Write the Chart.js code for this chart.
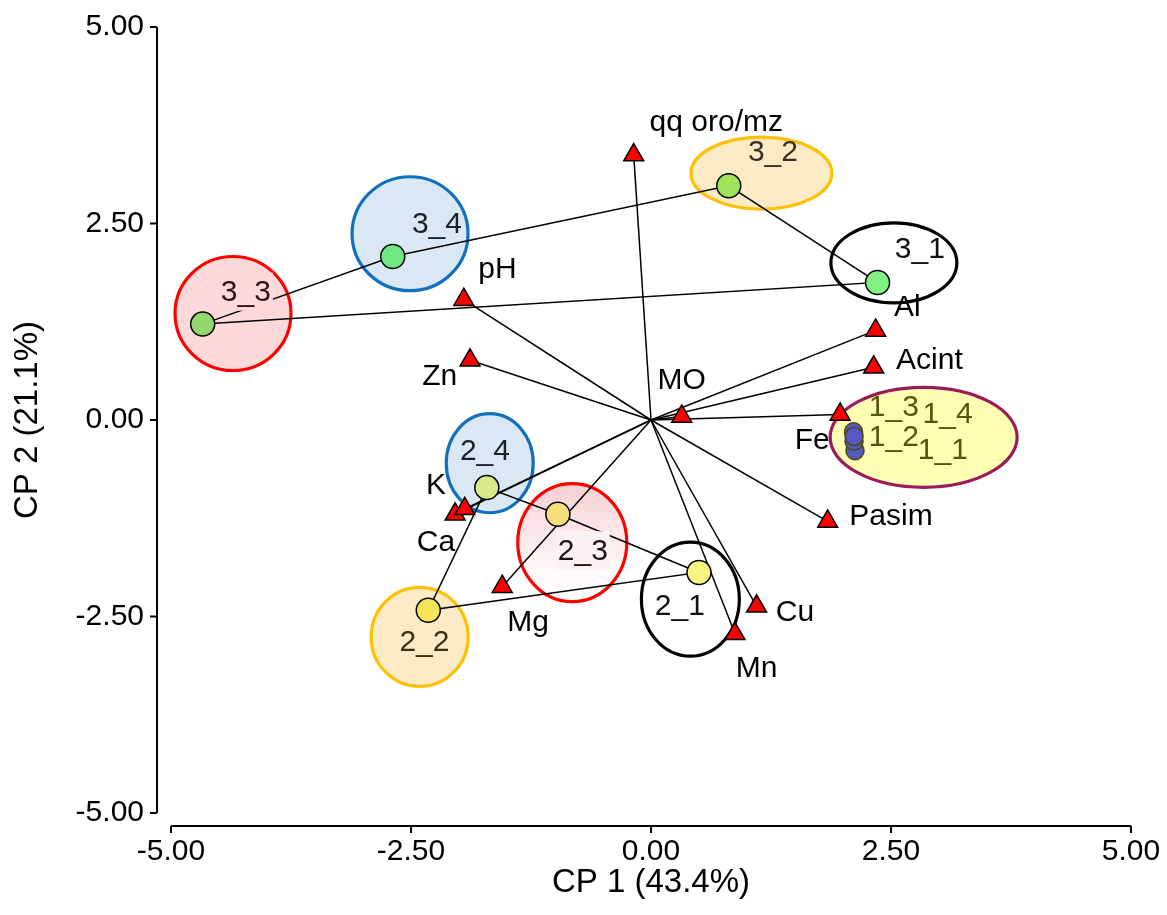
<!DOCTYPE html>
<html>
<head>
<meta charset="utf-8">
<script src="https://cdn.jsdelivr.net/npm/chart.js@4.4.1/dist/chart.umd.min.js"></script>
<style>
  html, body { margin: 0; padding: 0; background: #fff; }
</style>
</head>
<body>
<canvas id="grafico" width="1167" height="915"></canvas>
<script>
// variaveis (vetores a partir da origem)
const varNomes = ["qq oro/mz", "pH", "Zn", "MO", "Al", "Acint", "Fe", "Pasim", "Cu", "Mn", "Mg", "Ca", "K"]
const varX = [-0.18, -1.95, -1.885, 0.32, 2.34, 2.32, 1.97, 1.84, 1.10, 0.875, -1.55, -2.04, -1.94]
const varY = [3.37, 1.53, 0.76, 0.045, 1.14, 0.67, 0.07, -1.29, -2.37, -2.72, -2.12, -1.20, -1.13]
const varRotX = [0.68, -1.60, -2.20, 0.32, 2.67, 2.90, 1.68, 2.50, 1.50, 1.10, -1.28, -2.24, -2.24]
const varRotY = [3.78, 1.91, 0.55, 0.50, 1.43, 0.75, -0.26, -1.23, -2.45, -3.17, -2.58, -1.56, -0.84]

// amostras
const amostras = ["3_1", "3_2", "3_3", "3_4", "2_1", "2_2", "2_3", "2_4", "1_1", "1_2", "1_3", "1_4"]
const amX = [2.36, 0.81, -4.67, -2.69, 0.50, -2.32, -0.97, -1.71, 2.125, 2.115, 2.11, 2.115]
const amY = [1.75, 2.98, 1.22, 2.08, -1.94, -2.42, -1.20, -0.86, -0.39, -0.27, -0.15, -0.21]
const amRotX = [2.80, 1.27, -4.22, -2.23, 0.30, -2.36, -0.71, -1.73, 3.04, 2.53, 2.53, 3.09]
const amRotY = [2.16, 3.40, 1.62, 2.49, -2.37, -2.83, -1.67, -0.41, -0.39, -0.22, 0.16, 0.07]

// ligacoes entre amostras de cada grupo
const grupo3 = ["3_3", "3_4", "3_2", "3_1", "3_3"]
const grupo2 = ["2_4", "2_3", "2_1", "2_2", "2_4"]
const grupo1 = ["1_3", "1_4", "1_2", "1_1", "1_3"]

// elipses dos grupos (centro e raios em unidades do grafico)
const elipseX = [2.53, 1.15, -4.354, -2.51, 0.41, -2.41, -0.82, -1.68, 2.84]
const elipseY = [2.0, 3.14, 1.355, 2.37, -2.28, -2.76, -1.56, -0.55, -0.22]
const elipseRX = [0.656, 0.734, 0.604, 0.604, 0.51, 0.505, 0.568, 0.453, 0.974]
const elipseRY = [0.509, 0.458, 0.725, 0.725, 0.725, 0.63, 0.75, 0.63, 0.636]

const ticksEixo = [-5, -2.5, 0, 2.5, 5]

// estilos
const elipseBorda = ["#000000", "#ffc000", "#ff0000", "#1070c0", "#000000", "#ffc000", "#ff0000", "#1070c0", "#9a1a5c"]
const elipseFundo = [null, "#fdebc6", "#fdd9d9", "#d9e8f4", null, "#fdebc6", "gradiente", "#d9e8f4", "#ffffb4"]
const amCor = ["#82f282", "#a0e45e", "#92d66e", "#6ee882", "#f8f480", "#f4e458", "#f6e07c", "#d8ea8c",
  "#5858c4", "#5858c4", "#5858c4", "#5858c4"]
const amBorda = ["#000", "#000", "#000", "#000", "#000", "#000", "#000", "#000", "#4a4a10", "#4a4a10", "#4a4a10", "#4a4a10"]
const amTexto = ["#111", "#3a3020", "#2e1414", "#16222e", "#111", "#3b3010", "#1e1212", "#16222e",
  "#55550c", "#55550c", "#55550c", "#55550c"]
const amFundoTexto = [null, null, "#fdd9d9", null, null, null, "#fdf2f3", null, null, null, null, null]

const fonte = "'Liberation Sans', Arial, sans-serif"

function pontoDe(nome) {
  const i = amostras.indexOf(nome)
  return { x: amX[i], y: amY[i] }
}

const elipses = {
  id: "elipses",
  beforeDatasetsDraw(chart) {
    const ctx = chart.ctx, sx = chart.scales.x, sy = chart.scales.y
    ctx.save()
    elipseX.forEach((cx, i) => {
      const px = sx.getPixelForValue(cx), py = sy.getPixelForValue(elipseY[i])
      const rx = Math.abs(sx.getPixelForValue(cx + elipseRX[i]) - px)
      const ry = Math.abs(sy.getPixelForValue(elipseY[i] + elipseRY[i]) - py)
      ctx.beginPath()
      ctx.ellipse(px, py, rx, ry, 0, 0, Math.PI * 2)
      if (elipseFundo[i] === "gradiente") {
        const g = ctx.createLinearGradient(0, py - ry, 0, py + ry)
        g.addColorStop(0, "#f8cfd3")
        g.addColorStop(0.75, "#fffafa")
        g.addColorStop(1, "#ffffff")
        ctx.fillStyle = g
        ctx.fill()
      } else if (elipseFundo[i]) {
        ctx.fillStyle = elipseFundo[i]
        ctx.fill()
      }
      ctx.lineWidth = 3.2
      ctx.strokeStyle = elipseBorda[i]
      ctx.stroke()
    })
    ctx.restore()
  }
}

const rotulos = {
  id: "rotulos",
  afterDatasetsDraw(chart) {
    const ctx = chart.ctx, sx = chart.scales.x, sy = chart.scales.y
    ctx.save()
    ctx.font = "30px " + fonte
    ctx.textAlign = "center"
    ctx.textBaseline = "middle"
    amostras.forEach((nome, i) => {
      const px = sx.getPixelForValue(amRotX[i]), py = sy.getPixelForValue(amRotY[i])
      if (amFundoTexto[i]) {
        const w = ctx.measureText(nome).width
        ctx.fillStyle = amFundoTexto[i]
        ctx.fillRect(px - w / 2 - 2, py - 20, w + 4, 38)
      }
      ctx.fillStyle = amTexto[i]
      ctx.fillText(nome, px, py)
    })
    ctx.fillStyle = "#000"
    varNomes.forEach((nome, i) => {
      ctx.fillText(nome, sx.getPixelForValue(varRotX[i]), sy.getPixelForValue(varRotY[i]))
    })
    ctx.restore()
  }
}

// eixos destacados da area do grafico
const eixos = {
  id: "eixos",
  afterDraw(chart) {
    const ctx = chart.ctx, sx = chart.scales.x, sy = chart.scales.y
    const xe = chart.chartArea.left - 14
    const ye = chart.chartArea.bottom + 13
    ctx.save()
    ctx.strokeStyle = "#000"
    ctx.lineWidth = 2
    ctx.beginPath()
    ctx.moveTo(xe, sy.getPixelForValue(sy.max))
    ctx.lineTo(xe, sy.getPixelForValue(sy.min))
    sy.ticks.forEach((t) => {
      const p = sy.getPixelForValue(t.value)
      ctx.moveTo(xe - 7, p)
      ctx.lineTo(xe, p)
    })
    ctx.moveTo(sx.getPixelForValue(sx.min), ye)
    ctx.lineTo(sx.getPixelForValue(sx.max), ye)
    sx.ticks.forEach((t) => {
      const p = sx.getPixelForValue(t.value)
      ctx.moveTo(p, ye)
      ctx.lineTo(p, ye + 7)
    })
    ctx.stroke()
    ctx.restore()
  }
}

const linhasVar = varX.map((x, i) => ({
  type: "scatter",
  data: [{ x: 0, y: 0 }, { x: x, y: varY[i] }],
  showLine: true,
  borderColor: "#000",
  borderWidth: 1.5,
  pointRadius: 0,
  order: 3
}))

const linhasGrupo = [grupo3, grupo2, grupo1].map((g, k) => ({
  type: "scatter",
  data: g.map(pontoDe),
  showLine: true,
  borderColor: k === 2 ? "#4a4a10" : "#000",
  borderWidth: 1.5,
  pointRadius: 0,
  order: 2
}))

const triangulos = {
  type: "scatter",
  data: varX.map((x, i) => ({ x: x, y: varY[i] })),
  pointStyle: "triangle",
  pointRadius: 11.5,
  backgroundColor: "#ff0000",
  borderColor: "#000",
  borderWidth: 1.5,
  order: 1
}

const pontos = {
  type: "scatter",
  data: amX.map((x, i) => ({ x: x, y: amY[i] })),
  pointStyle: "circle",
  pointRadius: amX.map((x, i) => (i >= 8 ? 9 : 12)),
  backgroundColor: amCor,
  borderColor: amBorda,
  borderWidth: 1.5,
  order: 0
}

const escala = (titulo, pad) => ({
  type: "linear",
  min: -5,
  max: 5,
  grid: { display: false },
  border: { display: false },
  afterBuildTicks: (s) => { s.ticks = ticksEixo.map((v) => ({ value: v })) },
  ticks: {
    color: "#000",
    font: { family: fonte, size: 30 },
    padding: pad,
    callback: (v) => Number(v).toFixed(2)
  },
  title: {
    display: true,
    text: titulo,
    color: "#000",
    font: { family: fonte, size: 33 }
  }
})

const escalaX = escala("CP 1 (43.4%)", 13)
escalaX.title.padding = { top: 0, bottom: 12 }
escalaX.afterFit = (s) => {
  s.height = 102
  s.paddingLeft = 0
  s.paddingRight = 0
}
const escalaY = escala("CP 2 (21.1%)", 19)
escalaY.title.padding = { top: 8, bottom: 0 }
escalaY.afterFit = (s) => {
  s.width = 171
  s.paddingTop = 0
  s.paddingBottom = 0
}

new Chart(document.getElementById("grafico"), {
  type: "scatter",
  data: { datasets: [pontos, triangulos, ...linhasGrupo, ...linhasVar] },
  options: {
    responsive: false,
    animation: false,
    devicePixelRatio: 1,
    layout: { padding: { top: 27, right: 36, left: 0, bottom: 0 } },
    plugins: { legend: { display: false }, tooltip: { enabled: false } },
    scales: { x: escalaX, y: escalaY }
  },
  plugins: [elipses, rotulos, eixos]
})
</script>
</body>
</html>
